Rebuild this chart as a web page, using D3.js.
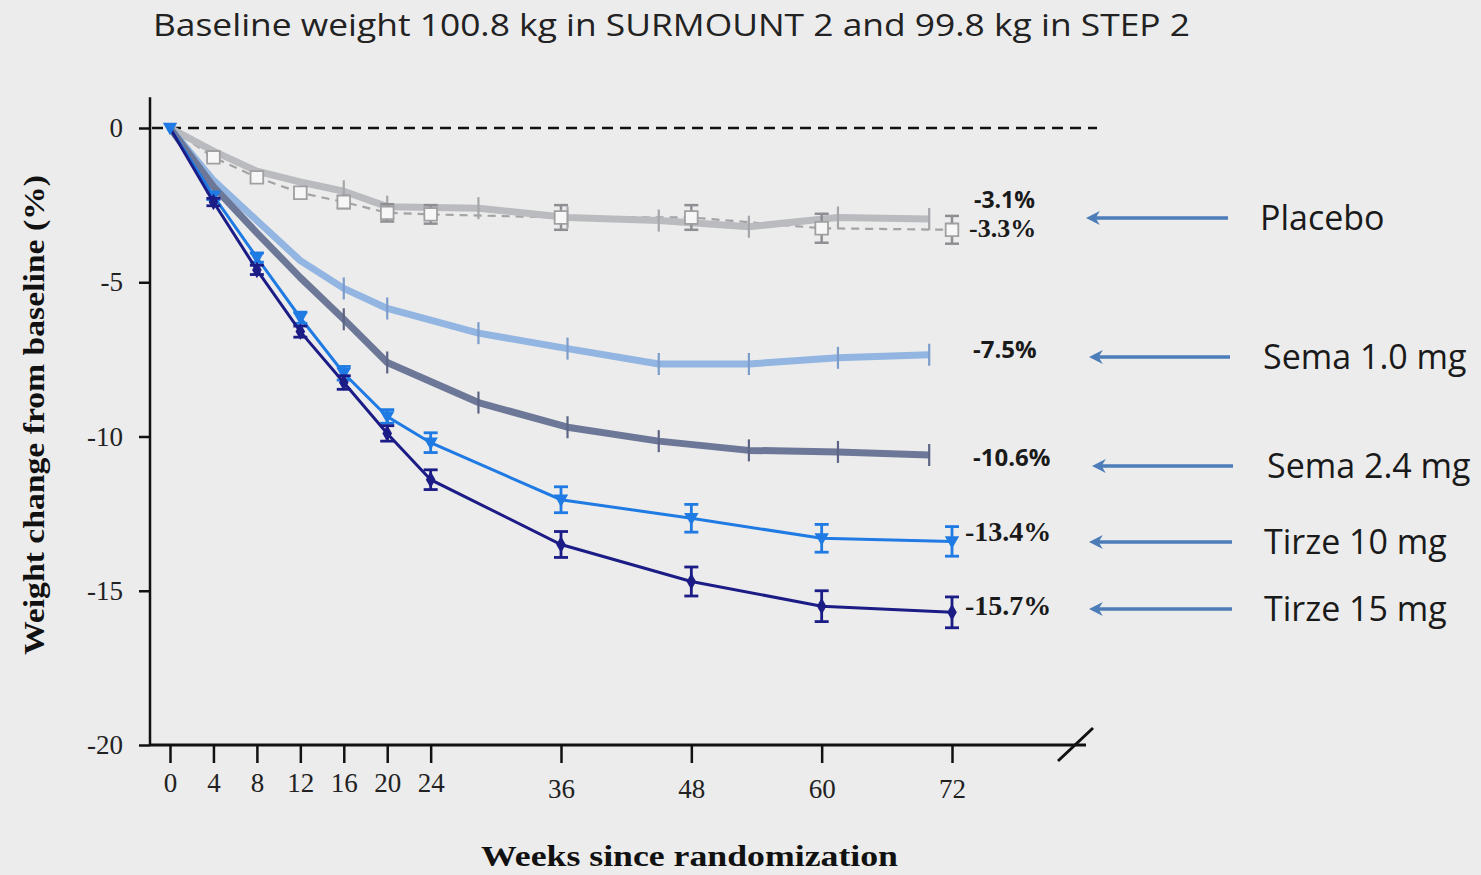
<!DOCTYPE html>
<head>
<meta charset="utf-8">
<script src="https://d3js.org/d3.v7.min.js"></script>
</head>
<body>
<style>
  body { margin: 0; background: #ececec; }
  svg { display: block; }
</style>
<div id="viz"></div>
<script>

// ---- data ----
var weekTicks = [0, 4, 8, 12, 16, 20, 24, 36, 48, 60, 72];
var yTicks = [0, -5, -10, -15, -20];

// SURMOUNT 2 (tirzepatide) visits
var weeksSurmount = [0, 4, 8, 12, 16, 20, 24, 36, 48, 60, 72];
var tirze15 = [0, -2.4, -4.6, -6.6, -8.25, -9.9, -11.4, -13.5, -14.7, -15.5, -15.7];
var tirze15Err = [0, 0.12, 0.15, 0.18, 0.22, 0.25, 0.32, 0.42, 0.47, 0.5, 0.5];
var tirze10 = [0, -2.2, -4.2, -6.15, -7.95, -9.35, -10.2, -12.05, -12.65, -13.3, -13.4];
var tirze10Err = [0, 0.12, 0.15, 0.18, 0.22, 0.22, 0.32, 0.42, 0.45, 0.45, 0.48];
var placeboSurmount = [0, -0.95, -1.6, -2.1, -2.4, -2.75, -2.8, -2.9, -2.9, -3.25, -3.3];
var placeboSurmountErr = [0, 0.1, 0.15, 0.18, 0.2, 0.28, 0.3, 0.4, 0.4, 0.47, 0.45];

// STEP 2 (semaglutide) visits, placed on the same week axis
var weeksStep = [0, 4, 8, 12, 16, 20, 28.4, 36.6, 45, 53.3, 61.5, 69.9];
var sema24 = [0, -1.9, -3.4, -4.85, -6.2, -7.6, -8.9, -9.7, -10.15, -10.45, -10.5, -10.6];
var sema10 = [0, -1.7, -3.0, -4.3, -5.2, -5.85, -6.65, -7.15, -7.65, -7.65, -7.45, -7.35];
var placeboStep = [0, -0.75, -1.4, -1.75, -2.05, -2.55, -2.6, -2.9, -3.0, -3.2, -2.9, -2.95];

var legendLabels = ["Placebo", "Sema 1.0 mg", "Sema 2.4 mg", "Tirze 10 mg", "Tirze 15 mg"];
var endLabels = ["-3.1%", "-3.3%", "-7.5%", "-10.6%", "-13.4%", "-15.7%"];

// ---- layout ----
var W = 1481, H = 875;
var serif = "'Liberation Serif', 'Times New Roman', serif";
var sans = "'Open Sans', 'Noto Sans', sans-serif";

var svg = d3.select("#viz")
  .append("svg")
    .attr("width", W)
    .attr("height", H);

svg.append("rect").attr("width", W).attr("height", H).attr("fill", "#ececec");

var x = d3.scaleLinear().domain([0, 72]).range([170, 952]);
var y = d3.scaleLinear().domain([-20, 1]).range([745, 97.15]);

// title
svg.append("text")
  .attr("x", 153)
  .attr("y", 36)
  .attr("textLength", 1037)
  .attr("lengthAdjust", "spacingAndGlyphs")
  .style("font-family", sans)
  .style("font-size", "31px")
  .style("fill", "#222")
  .text("Baseline weight 100.8 kg in SURMOUNT 2 and 99.8 kg in STEP 2");

// y axis
var yAxis = svg.append("g")
  .attr("transform", "translate(150,0)")
  .call(d3.axisLeft(y).tickValues(yTicks).tickSize(11).tickPadding(16)
    .tickFormat(function(d) { return d; }));
yAxis.select(".domain").remove();
yAxis.selectAll(".tick line").attr("stroke", "#111").attr("stroke-width", 2.5);
yAxis.selectAll(".tick text")
  .style("font-family", serif).style("font-size", "27px").style("fill", "#222");
svg.append("line")
  .attr("x1", 150).attr("x2", 150)
  .attr("y1", y(1)).attr("y2", y(-20) + 1)
  .attr("stroke", "#111").attr("stroke-width", 2.5);

// x axis
var xAxis = svg.append("g")
  .attr("transform", "translate(0," + y(-20) + ")")
  .call(d3.axisBottom(x).tickValues(weekTicks).tickSize(18).tickPadding(9));
xAxis.select(".domain").remove();
xAxis.selectAll(".tick line").attr("stroke", "#111").attr("stroke-width", 2.5);
xAxis.selectAll(".tick text")
  .attr("dy", function(d) { return d > 24 ? "0.95em" : "0.75em"; })
  .style("font-family", serif).style("font-size", "27px").style("fill", "#222");
svg.append("line")
  .attr("x1", 150).attr("x2", 1086)
  .attr("y1", y(-20)).attr("y2", y(-20))
  .attr("stroke", "#111").attr("stroke-width", 3);
svg.append("line")
  .attr("x1", 1058).attr("x2", 1093)
  .attr("y1", 761).attr("y2", 728)
  .attr("stroke", "#111").attr("stroke-width", 3);

// axis titles
svg.append("text")
  .attr("x", 481).attr("y", 866)
  .attr("textLength", 417)
  .attr("lengthAdjust", "spacingAndGlyphs")
  .style("font-family", serif).style("font-size", "30px").style("font-weight", "bold")
  .style("fill", "#111")
  .text("Weeks since randomization");
svg.append("text")
  .attr("transform", "translate(44,655) rotate(-90)")
  .attr("textLength", 480)
  .attr("lengthAdjust", "spacingAndGlyphs")
  .style("font-family", serif).style("font-size", "30px").style("font-weight", "bold")
  .style("fill", "#111")
  .text("Weight change from baseline (%)");

// zero reference line
svg.append("line")
  .attr("x1", 152).attr("x2", 1097)
  .attr("y1", y(0)).attr("y2", y(0))
  .attr("stroke", "#111").attr("stroke-width", 2.5)
  .attr("stroke-dasharray", "11,7");

function pts(weeks, vals, errs) {
  return weeks.map(function(w, i) { return {w: w, v: vals[i], e: errs ? errs[i] : 0}; });
}
var line = d3.line().x(function(d) { return x(d.w); }).y(function(d) { return y(d.v); });

// STEP 2 thick lines with tick markers
function stepSeries(data, color, tickColor) {
  svg.append("path").datum(data)
    .attr("fill", "none").attr("stroke", color).attr("stroke-width", 7)
    .attr("stroke-linejoin", "round")
    .attr("d", line);
  svg.append("g").selectAll("line").data(data.slice(4)).join("line")
    .attr("x1", function(d) { return x(d.w); }).attr("x2", function(d) { return x(d.w); })
    .attr("y1", function(d) { return y(d.v) - 11; }).attr("y2", function(d) { return y(d.v) + 11; })
    .attr("stroke", tickColor).attr("stroke-width", 2.2);
}

// SURMOUNT 2 thin lines with error bars and symbols
function errorBars(data, color, width) {
  var g = svg.append("g").attr("stroke", color).attr("stroke-width", width);
  var d2 = data.filter(function(d) { return d.e > 0; });
  g.selectAll(".v").data(d2).join("line")
    .attr("x1", function(d) { return x(d.w); }).attr("x2", function(d) { return x(d.w); })
    .attr("y1", function(d) { return y(d.v + d.e); }).attr("y2", function(d) { return y(d.v - d.e); });
  g.selectAll(".t").data(d2).join("line")
    .attr("x1", function(d) { return x(d.w) - 7; }).attr("x2", function(d) { return x(d.w) + 7; })
    .attr("y1", function(d) { return y(d.v + d.e); }).attr("y2", function(d) { return y(d.v + d.e); });
  g.selectAll(".b").data(d2).join("line")
    .attr("x1", function(d) { return x(d.w) - 7; }).attr("x2", function(d) { return x(d.w) + 7; })
    .attr("y1", function(d) { return y(d.v - d.e); }).attr("y2", function(d) { return y(d.v - d.e); });
}

var dPlaceboS = pts(weeksSurmount, placeboSurmount, placeboSurmountErr);
var dPlaceboStep = pts(weeksStep, placeboStep);
var dSema10 = pts(weeksStep, sema10);
var dSema24 = pts(weeksStep, sema24);
var dT10 = pts(weeksSurmount, tirze10, tirze10Err);
var dT15 = pts(weeksSurmount, tirze15, tirze15Err);

// placebo SURMOUNT dashed
svg.append("path").datum(dPlaceboS)
  .attr("fill", "none").attr("stroke", "#a3a3a5").attr("stroke-width", 2.2)
  .attr("stroke-dasharray", "8,6").attr("d", line);

stepSeries(dPlaceboStep, "#b9bbbf", "#a4a6aa");
stepSeries(dSema10, "#93b5e1", "#7c9ccb");
stepSeries(dSema24, "#6d7797", "#5c6585");

errorBars(dPlaceboS, "#8e8f93", 2.5);
svg.append("g").selectAll("path").data(dPlaceboS.slice(1)).join("path")
  .attr("transform", function(d) { return "translate(" + x(d.w) + "," + y(d.v) + ")"; })
  .attr("d", d3.symbol(d3.symbolSquare, 160))
  .attr("fill", "#f7f7f7").attr("stroke", "#a0a0a2").attr("stroke-width", 1.8);

svg.append("path").datum(dT10)
  .attr("fill", "none").attr("stroke", "#1f7be3").attr("stroke-width", 3).attr("d", line);
errorBars(dT10, "#1f7be3", 2.8);
svg.append("g").selectAll("path").data(dT10.slice(1)).join("path")
  .attr("transform", function(d) { return "translate(" + x(d.w) + "," + (y(d.v) - 1) + ") rotate(180)"; })
  .attr("d", d3.symbol(d3.symbolTriangle, 90))
  .attr("fill", "#1f7be3");

svg.append("path").datum(dT15)
  .attr("fill", "none").attr("stroke", "#1b1c86").attr("stroke-width", 3).attr("d", line);
errorBars(dT15, "#1b1c86", 2.8);
svg.append("g").selectAll("path").data(dT15.slice(1)).join("path")
  .attr("transform", function(d) { return "translate(" + x(d.w) + "," + y(d.v) + ")"; })
  .attr("d", d3.symbol(d3.symbolDiamond, 80))
  .attr("fill", "#1b1c86");

// start marker at week 0
svg.append("path")
  .attr("transform", "translate(" + x(0) + "," + (y(0) - 1) + ") rotate(180)")
  .attr("d", d3.symbol(d3.symbolTriangle, 90)).attr("fill", "#1f7be3");

// end-of-study labels
var endPos = [
  {x: 974, y: 208, font: sans, weight: "bold", size: "23px"},
  {x: 969, y: 237, font: serif, weight: "bold", size: "26px"},
  {x: 973, y: 358, font: sans, weight: "bold", size: "24px"},
  {x: 973, y: 466, font: sans, weight: "bold", size: "24px"},
  {x: 965, y: 541, font: serif, weight: "bold", size: "28px"},
  {x: 965, y: 615, font: serif, weight: "bold", size: "28px"}
];
svg.append("g").selectAll("text").data(endLabels).join("text")
  .attr("x", function(d, i) { return endPos[i].x; })
  .attr("y", function(d, i) { return endPos[i].y; })
  .style("font-family", function(d, i) { return endPos[i].font; })
  .style("font-weight", function(d, i) { return endPos[i].weight; })
  .style("font-size", function(d, i) { return endPos[i].size; })
  .style("fill", "#1a1a1a")
  .text(function(d) { return d; });

// legend arrows
svg.append("defs").append("marker")
  .attr("id", "arrow")
  .attr("viewBox", "0 0 10 10")
  .attr("refX", 7).attr("refY", 5)
  .attr("markerWidth", 4).attr("markerHeight", 4)
  .attr("orient", "auto")
  .append("path")
    .attr("d", "M10,5 L0,0 L3,5 L0,10 Z")
    .attr("fill", "#4d7db8");

var legendPos = [
  {x1: 1228, x2: 1084, y: 218, tx: 1260},
  {x1: 1230, x2: 1087, y: 357, tx: 1263},
  {x1: 1233, x2: 1090, y: 466, tx: 1267},
  {x1: 1232, x2: 1087, y: 542, tx: 1264},
  {x1: 1232, x2: 1087, y: 609, tx: 1264}
];
var leg = svg.append("g");
leg.selectAll("line").data(legendLabels).join("line")
  .attr("x1", function(d, i) { return legendPos[i].x1; })
  .attr("x2", function(d, i) { return legendPos[i].x2 + 6; })
  .attr("y1", function(d, i) { return legendPos[i].y; })
  .attr("y2", function(d, i) { return legendPos[i].y; })
  .attr("stroke", "#4d7db8").attr("stroke-width", 3.5)
  .attr("marker-end", "url(#arrow)");
leg.selectAll("text").data(legendLabels).join("text")
  .attr("x", function(d, i) { return legendPos[i].tx; })
  .attr("y", function(d, i) { return legendPos[i].y + 12; })
  .style("font-family", sans).style("font-size", "34px").style("fill", "#1a1a1a")
  .text(function(d) { return d; });

</script>
</body>
